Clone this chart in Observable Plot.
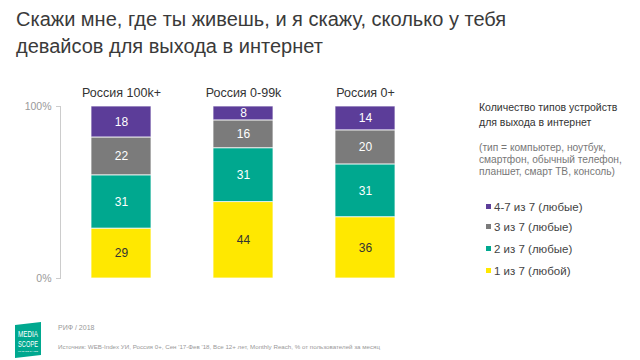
<!DOCTYPE html>
<html>
<head>
<meta charset="utf-8">
<script src="https://cdn.jsdelivr.net/npm/d3@7"></script>
<script src="https://cdn.jsdelivr.net/npm/@observablehq/plot@0.6"></script>
<style>
  html, body { margin: 0; padding: 0; background: #fff; }
  #root { position: relative; width: 640px; height: 360px; overflow: hidden; font-family: "Liberation Sans", Arial, sans-serif; }
  #title { position: absolute; left: 16px; top: 6px; font-size: 20px; line-height: 27px; color: #3a3a3a; white-space: nowrap; }
  #chart { position: absolute; left: 0; top: 0; }
  #legend { position: absolute; left: 479px; top: 100px; color: #333; }
  #legend .head { font-size: 10.5px; line-height: 14.5px; color: #333; }
  #legend .note { font-size: 10.2px; line-height: 11.8px; color: #777; margin-top: 13px; }
  #legend .items { position: absolute; left: 7px; top: 100px; }
  #legend .item { position: absolute; left: 0; font-size: 11.5px; white-space: nowrap; color: #444; }
  #legend .sw { display: inline-block; width: 5px; height: 5px; margin-right: 3px; vertical-align: 2px; }
  #logo { position: absolute; left: 15px; top: 322px; }
  #rif { position: absolute; left: 58px; top: 324px; font-size: 7px; color: #999; }
  #src { position: absolute; left: 58px; top: 343px; font-size: 6.2px; color: #999; white-space: nowrap; }
</style>
</head>
<body>
<div id="root">
  <div id="title">Скажи мне, где ты живешь, и я скажу, сколько у тебя<br>девайсов для выхода в интернет</div>
  <div id="chart"></div>
  <div id="legend">
    <div class="head">Количество типов устройств<br>для выхода в интернет</div>
    <div class="note">(тип = компьютер, ноутбук,<br>смартфон, обычный телефон,<br>планшет, смарт ТВ, консоль)</div>
    <div class="items" id="items"></div>
  </div>
  <svg id="logo" width="40" height="36" viewBox="0 0 40 36">
    <polygon points="0,3 26,0 26,33 0,36" fill="#00a88f"/>
    <text x="3" y="15" font-size="9" fill="#fff" textLength="20" lengthAdjust="spacingAndGlyphs" font-family="Liberation Sans Narrow, Liberation Sans, sans-serif">MEDIA</text>
    <text x="3" y="25" font-size="9" fill="#fff" textLength="20" lengthAdjust="spacingAndGlyphs" font-family="Liberation Sans Narrow, Liberation Sans, sans-serif">SCOPE</text>
    <text x="3" y="30" font-size="2" fill="#fff" textLength="20" lengthAdjust="spacingAndGlyphs" font-family="Liberation Sans, sans-serif">ГЛАВНОЕ ЗА РЕЗ</text>
  </svg>
  <div id="rif">РИФ / 2018</div>
  <div id="src">Источник: WEB-Index УИ, Россия 0+, Сен '17-Фев '18, Все 12+ лет, Monthly Reach, % от пользователей за месяц</div>
</div>
<script>
const categories = ["Россия 100k+", "Россия 0-99k", "Россия 0+"];
const series = ["1 из 7 (любой)", "2 из 7 (любые)", "3 из 7 (любые)", "4-7 из 7 (любые)"];
const colors = ["#ffe800", "#00a88f", "#7b7b7b", "#5c3d99"];
const values1of7 = [29, 44, 36];
const values2of7 = [31, 31, 31];
const values3of7 = [22, 16, 20];
const values4to7 = [18, 8, 14];
const yTicks = [0, 1];
const yTickLabels = ["0%", "100%"];

const seriesValues = [values1of7, values2of7, values3of7, values4to7];
const data = [];
series.forEach((s, i) => categories.forEach((c, j) => data.push({cat: c, series: s, v: seriesValues[i][j]})));

const stackOpts = {x: "cat", y: "v", z: "series", offset: "normalize"};

const chart = Plot.plot({
  width: 640,
  height: 360,
  marginLeft: 60,
  marginRight: 214,
  marginTop: 106,
  marginBottom: 82,
  style: {fontFamily: "Liberation Sans, Arial, sans-serif", background: "transparent"},
  x: {domain: categories, paddingInner: 0.508, paddingOuter: 0.254, axis: null},
  y: {domain: [0, 1], axis: null, label: null},
  color: {domain: series, range: colors},
  marks: [
    Plot.frame({anchor: "left", stroke: "#cccccc"}),
    Plot.barY(data, Plot.stackY({...stackOpts, fill: "series", stroke: "#ffffff", strokeOpacity: 0.75, strokeWidth: 1})),
    Plot.text(data, Plot.stackY({...stackOpts, text: d => d.series === series[0] ? "" : String(d.v), fill: "#ffffff", fontSize: 12})),
    Plot.text(data, Plot.stackY({...stackOpts, text: d => d.series === series[0] ? String(d.v) : "", fill: "#333333", fontSize: 12})),
    Plot.text(categories, {x: d => d, frameAnchor: "top", dy: -18, fill: "#333", fontSize: 12.5}),
    Plot.axisY(yTicks, {tickSize: 4, tickFormat: d => yTickLabels[yTicks.indexOf(d)], stroke: "#cccccc", fill: "#999999", fontSize: 10.5, tickPadding: 5, label: null})
  ]
});
document.getElementById("chart").appendChild(chart);

// legend, top to bottom in reversed series order
const legendOrder = [3, 2, 1, 0];
const itemTops = [1, 21, 43, 65];
const items = document.getElementById("items");
legendOrder.forEach((k, i) => {
  const el = document.createElement("div");
  el.className = "item";
  el.style.top = itemTops[i] + "px";
  el.innerHTML = `<span class="sw" style="background:${colors[k]}"></span>${series[k]}`;
  items.appendChild(el);
});
</script>
</body>
</html>
